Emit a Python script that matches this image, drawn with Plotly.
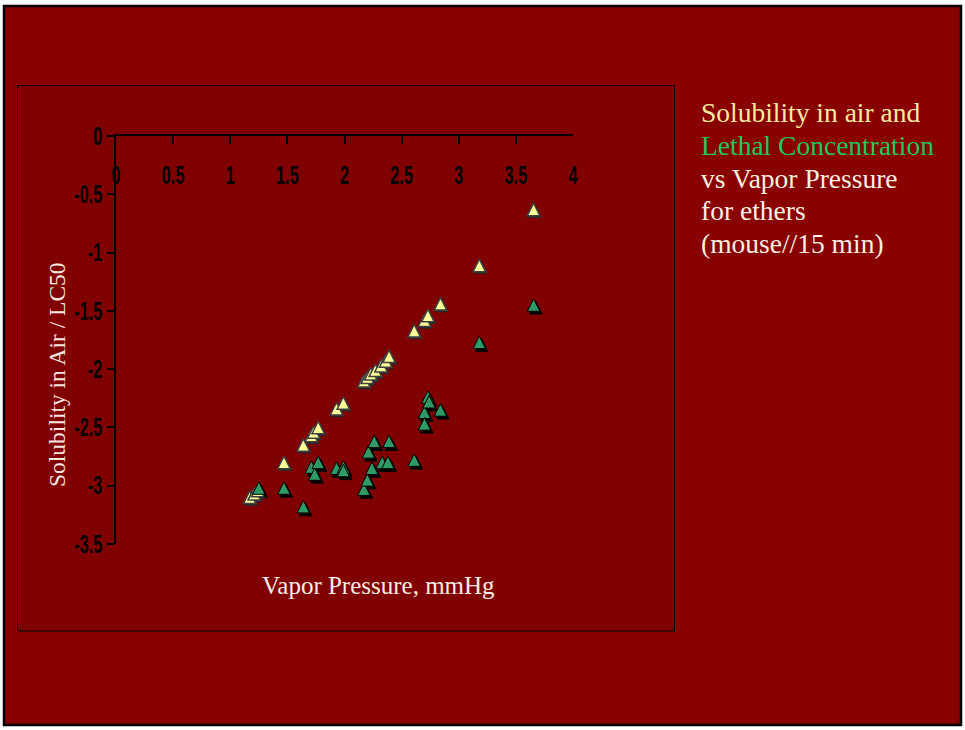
import plotly.graph_objects as go

# Ethers: log solubility in air and log LC50 (mouse, 15 min) against log vapor pressure
vp_solubility = [1.17, 1.21, 1.24, 1.47, 1.64, 1.71, 1.73, 1.77, 1.93, 1.99,
                 2.17, 2.20, 2.23, 2.27, 2.32, 2.36, 2.39, 2.61, 2.70, 2.73,
                 2.84, 3.18, 3.655]
solubility_air = [-3.10, -3.07, -3.04, -2.80, -2.65, -2.57, -2.54, -2.50, -2.34, -2.29,
                  -2.10, -2.07, -2.04, -2.01, -1.97, -1.93, -1.89, -1.67, -1.58, -1.54,
                  -1.44, -1.11, -0.63]

vp_lethal = [1.25, 1.47, 1.64, 1.71, 1.74, 1.77, 1.93, 1.99, 1.99, 2.17,
             2.20, 2.21, 2.24, 2.26, 2.33, 2.38, 2.39, 2.61, 2.70, 2.70,
             2.73, 2.74, 2.84, 3.18, 3.655]
lethal_conc = [-3.02, -3.02, -3.18, -2.84, -2.90, -2.80, -2.85, -2.84, -2.87, -3.03,
               -2.95, -2.71, -2.85, -2.62, -2.80, -2.80, -2.62, -2.78, -2.37, -2.47,
               -2.24, -2.28, -2.35, -1.77, -1.45]

x_tick_vals = [0, 0.5, 1, 1.5, 2, 2.5, 3, 3.5, 4]
x_tick_text = ["0", "0.5", "1", "1.5", "2", "2.5", "3", "3.5", "4"]
y_tick_vals = [0, -0.5, -1, -1.5, -2, -2.5, -3, -3.5]
y_tick_text = ["0", "-0.5", "-1", "-1.5", "-2", "-2.5", "-3", "-3.5"]

side_note = [
    ("Solubility in air and", "#f8eaa0"),
    ("Lethal Concentration", "#1ec85a"),
    ("vs Vapor Pressure", "#fbefe2"),
    ("for ethers", "#fbefe2"),
    ("(mouse//15 min)", "#fbefe2"),
]

W, H = 965, 730
SLIDE_RED = "#880000"
CHART_RED = "#800000"
TICK_FONT = dict(family="Liberation Sans, Arial, sans-serif",
                 size=25, color="black", weight="bold")
SERIF = "Liberation Serif, Times New Roman, serif"

# drop-shadow offset for the markers, in axis units (about 2-3 px)
SHADOW_DX = 0.02
SHADOW_DY = -0.024

MSIZE = 12.5
# upright triangle centred on the point, a little taller than plotly's triangle-up
tri = dict(symbol="arrow-down", angle=180, standoff=MSIZE / 2, size=MSIZE)


def px_x(p):
    return p / W


def px_y(p):
    return 1 - p / H


fig = go.Figure()

# shadows sit on the base x axis; the marker layers go on the overlaying axis above them
fig.add_trace(go.Scatter(
    x=[v + SHADOW_DX * 0.6 for v in vp_solubility], y=[v + SHADOW_DY * 0.6 for v in solubility_air],
    mode="markers", hoverinfo="skip",
    marker=dict(**tri, color="#2a2a2a", line=dict(color="#2a2a2a", width=1)),
))
fig.add_trace(go.Scatter(
    x=[v + SHADOW_DX for v in vp_lethal], y=[v + SHADOW_DY for v in lethal_conc],
    mode="markers", hoverinfo="skip",
    marker=dict(**tri, color="black", line=dict(color="black", width=1)),
))
fig.add_trace(go.Scatter(
    x=vp_solubility, y=solubility_air, mode="markers", name="Solubility in air",
    xaxis="x2",
    marker=dict(**tri, color="#ffff99", line=dict(color="#404040", width=1.5)),
))
fig.add_trace(go.Scatter(
    x=vp_lethal, y=lethal_conc, mode="markers", name="Lethal Concentration",
    xaxis="x2",
    marker=dict(**tri, color="#2e9a66", line=dict(color="black", width=1)),
))

shapes = [
    # slide frame
    dict(type="rect", xref="paper", yref="paper", layer="below",
         x0=px_x(4), x1=px_x(961), y0=px_y(725), y1=px_y(6),
         fillcolor=SLIDE_RED, line=dict(color="black", width=2.5)),
    # chart area
    dict(type="rect", xref="paper", yref="paper", layer="below",
         x0=px_x(17.5), x1=px_x(674.5), y0=px_y(631), y1=px_y(85.5),
         fillcolor=CHART_RED, line=dict(color="black", width=1)),
]

annotations = [
    dict(text="Vapor Pressure, mmHg", xref="paper", yref="paper",
         x=px_x(378), y=px_y(585), xanchor="center", yanchor="middle",
         showarrow=False, font=dict(family=SERIF, size=25, color="#f8ece4")),
    dict(text="Solubility in Air / LC50", xref="paper", yref="paper",
         x=px_x(57), y=px_y(375), xanchor="center", yanchor="middle", textangle=-90,
         showarrow=False, font=dict(family=SERIF, size=23.5, color="#f5e6e0")),
]
line_centres = [113, 146, 178, 210.5, 243]
for (txt, col), yc in zip(side_note, line_centres):
    annotations.append(dict(
        text=txt, xref="paper", yref="paper", x=px_x(699), y=px_y(yc),
        xanchor="left", yanchor="middle", align="left", showarrow=False,
        font=dict(family=SERIF, size=27.5, color=col)))

fig.update_layout(
    width=W, height=H,
    margin=dict(l=0, r=0, t=0, b=0, pad=0, autoexpand=False),
    paper_bgcolor="white",
    plot_bgcolor=CHART_RED,
    showlegend=False,
    shapes=shapes,
    annotations=annotations,
    xaxis=dict(
        domain=[px_x(116), px_x(573)],
        range=[0, 4], side="top", automargin=False,
        tickmode="array", tickvals=x_tick_vals, ticktext=x_tick_text,
        ticks="inside", ticklen=8, tickwidth=1.5, tickcolor="black",
        showticklabels=False,
        showline=True, linecolor="black", linewidth=1.5,
        showgrid=False, zeroline=False,
    ),
    # tick labels of the vapor-pressure axis, hung just under the top axis line
    xaxis2=dict(
        matches="x", overlaying="x", anchor="free", position=px_y(158),
        side="bottom", automargin=False,
        tickmode="array", tickvals=x_tick_vals, ticktext=x_tick_text,
        ticks="", showline=False, showgrid=False, zeroline=False,
        tickfont=TICK_FONT,
    ),
    yaxis=dict(
        domain=[px_y(544), px_y(136)],
        range=[-3.5, 0], automargin=False,
        tickmode="array", tickvals=y_tick_vals, ticktext=y_tick_text,
        ticks="outside", ticklen=7, tickwidth=1.5, tickcolor="black",
        showline=True, linecolor="black", linewidth=1.5,
        showgrid=False, zeroline=False, tickfont=TICK_FONT,
    ),
)

# narrow the bold tick numerals horizontally, around each label's anchor
narrow_ticks = """
var gd = document.getElementsByClassName('plotly-graph-div')[0];
gd.querySelectorAll('g.xtick text, g.x2tick text, g.ytick text').forEach(function(t){
  var x = parseFloat(t.getAttribute('x')) || 0;
  var tr = t.getAttribute('transform') || '';
  t.setAttribute('transform', tr + ' translate(' + x + ',0) scale(0.65,1) translate(' + (-x) + ',0)');
});
"""

fig.write_html("out.html", post_script=narrow_ticks)
